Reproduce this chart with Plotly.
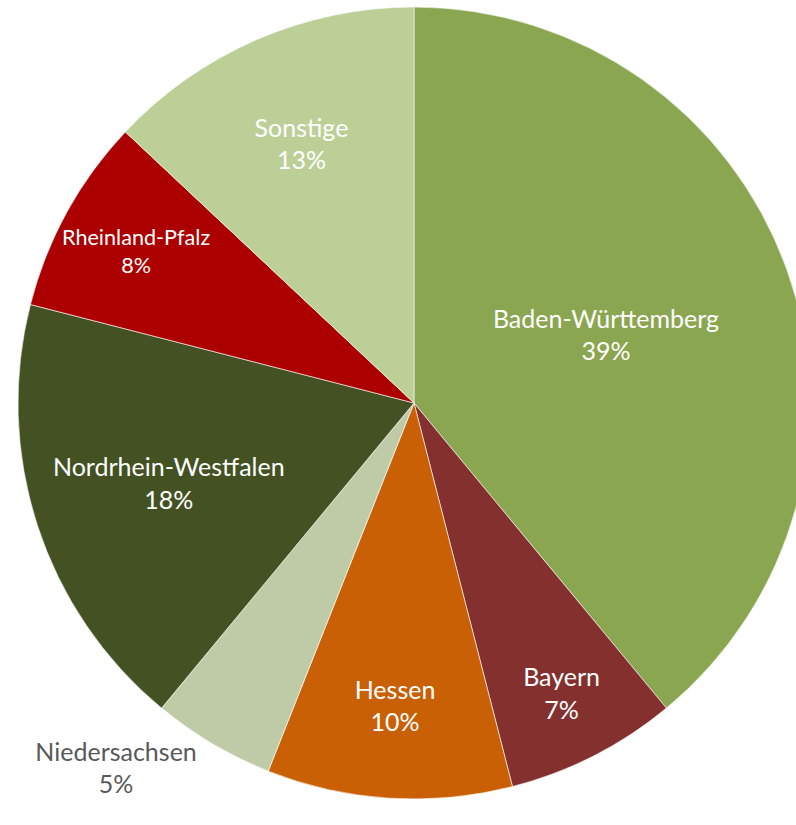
import plotly.graph_objects as go

# share of locations by federal state
states = ['Baden-Württemberg', 'Bayern', 'Hessen', 'Niedersachsen',
          'Nordrhein-Westfalen', 'Rheinland-Pfalz', 'Sonstige']
shares = [39, 7, 10, 5, 18, 8, 13]
colors = ['#8BA650', '#83302E', '#C96006', '#BFCBA6', '#445223', '#AC0000', '#BBCF97']
text_pos = ['inside', 'inside', 'inside', 'outside', 'inside', 'inside', 'inside']
text_col = ['white', 'white', 'white', '#595959', 'white', 'white', 'white']

W, H = 830, 825

fig = go.Figure(go.Pie(
    labels=states,
    values=shares,
    sort=False,
    direction='clockwise',
    rotation=0,
    marker=dict(colors=colors, line=dict(color='rgba(255,255,255,0.6)', width=1)),
    textinfo='label+percent',
    texttemplate='%{label}<br>%{percent:.0%}',
    textposition=text_pos,
    insidetextorientation='horizontal',
    textfont=dict(family='Lato, sans-serif', size=25, color=text_col),
    hoverinfo='label+percent',
    domain=dict(x=[18 / W, 810 / W], y=[26 / H, 818 / H]),
))

fig.update_layout(
    width=W, height=H,
    margin=dict(l=0, r=0, t=0, b=0),
    showlegend=False,
    paper_bgcolor='white',
    font=dict(family='Lato, sans-serif'),
)

fig.write_html("out.html", config={'displayModeBar': False},
               post_script="document.body.style.margin='0';document.body.style.overflow='hidden';")
